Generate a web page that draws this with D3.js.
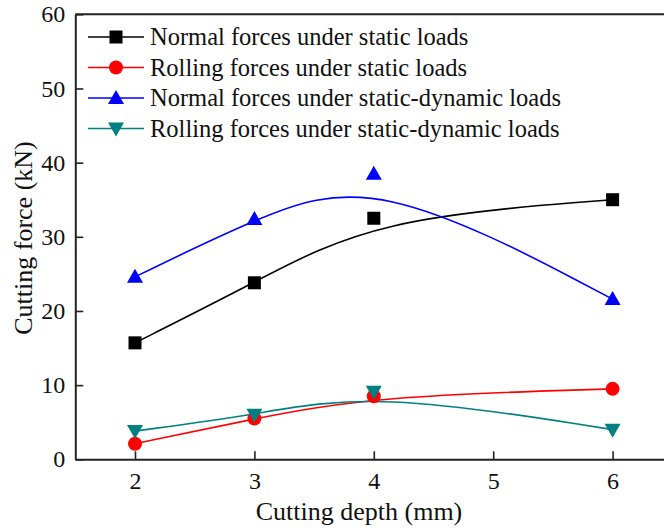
<!DOCTYPE html>
<html><head><meta charset="utf-8">
<script src="https://cdn.jsdelivr.net/npm/d3@7"></script>
<style>body{margin:0;background:#fff}svg{display:block}</style>
</head><body>
<svg id="c" width="664" height="532"></svg>
<script>
const depths = [2, 3, 4, 6];
const normalStatic = [15.7, 23.8, 32.5, 35.0];
const rollingStatic = [2.1, 5.5, 8.5, 9.5];
const normalDynamic = [24.6, 32.4, 38.5, 21.6];
const rollingDynamic = [3.8, 6.0, 9.1, 4.0];
const xTicks = [2, 3, 4, 5, 6];
const yTicks = [0, 10, 20, 30, 40, 50, 60];
const seriesNames = ["Normal forces under static loads","Rolling forces under static loads","Normal forces under static-dynamic loads","Rolling forces under static-dynamic loads"];

const series = [
  {name: seriesNames[0], vals: normalStatic, color: "#000000", sym: "square"},
  {name: seriesNames[1], vals: rollingStatic, color: "#ff0000", sym: "circle"},
  {name: seriesNames[2], vals: normalDynamic, color: "#0000ff", sym: "up"},
  {name: seriesNames[3], vals: rollingDynamic, color: "#008080", sym: "down"}
];

const svg = d3.select("#c");
const font = "'Liberation Serif','Times New Roman',serif";
const x = d3.scaleLinear().domain([1.5, 6.5]).range([75.3, 672.3]);
const y = d3.scaleLinear().domain([0, 60]).range([459.3, 14.3]);

// axes
const gx = svg.append("g").attr("transform", `translate(0,${y(0)})`)
  .call(d3.axisBottom(x).tickValues(xTicks).tickSizeInner(-8).tickSizeOuter(0).tickPadding(13).tickFormat(d3.format("d")));
const gy = svg.append("g").attr("transform", `translate(${x(1.5)},0)`)
  .call(d3.axisLeft(y).tickValues(yTicks).tickSizeInner(-8).tickSizeOuter(0).tickPadding(10).tickFormat(d3.format("d")));
[gx, gy].forEach(g => {
  g.select(".domain").attr("stroke", "#222").attr("stroke-width", 2);
  g.selectAll(".tick line").attr("stroke", "#222").attr("stroke-width", 1.6);
  g.selectAll(".tick text").attr("font-family", font).attr("font-size", 24).attr("fill", "#111");
});
gx.selectAll(".tick text").attr("dy", "0.71em");
// top border
svg.append("line").attr("x1", x(1.5)).attr("x2", x(6.5)).attr("y1", y(60)).attr("y2", y(60))
  .attr("stroke", "#222").attr("stroke-width", 2);

// titles
svg.append("text").attr("x", 359).attr("y", 520).attr("text-anchor", "middle")
  .attr("font-family", font).attr("font-size", 26).attr("fill", "#111").text("Cutting depth (mm)");
svg.append("text").attr("transform", "translate(32,238) rotate(-90)").attr("text-anchor", "middle")
  .attr("font-family", font).attr("font-size", 26).attr("fill", "#111").text("Cutting force (kN)");

function marker(g, sym, color) {
  if (sym === "square") g.append("rect").attr("x", -6.5).attr("y", -6.5).attr("width", 13).attr("height", 13).attr("fill", color);
  else if (sym === "circle") g.append("circle").attr("r", 7).attr("fill", color);
  else if (sym === "up") g.append("path").attr("d", "M0,-8L8,6L-8,6Z").attr("fill", color);
  else g.append("path").attr("d", "M0,8L8,-6L-8,-6Z").attr("fill", color);
}

const line = d3.line().x(d => x(d[0])).y(d => y(d[1])).curve(d3.curveBasis);
series.forEach(s => {
  const pts = depths.map((d, i) => [d, s.vals[i]]);
  svg.append("path").attr("d", line(pts)).attr("fill", "none").attr("stroke", s.color).attr("stroke-width", 1.6);
});
series.forEach(s => {
  depths.forEach((d, i) => {
    const g = svg.append("g").attr("transform", `translate(${x(d)},${y(s.vals[i])})`);
    marker(g, s.sym, s.color);
  });
});

// legend
series.forEach((s, i) => {
  const ly = 37 + i * 30.5;
  const g = svg.append("g");
  g.append("line").attr("x1", 88).attr("x2", 144).attr("y1", ly).attr("y2", ly).attr("stroke", s.color).attr("stroke-width", 1.6);
  marker(g.append("g").attr("transform", `translate(116,${ly})`), s.sym, s.color);
  g.append("text").attr("x", 150).attr("y", ly + 8).attr("font-family", font).attr("font-size", 24.5)
    .attr("fill", "#111").text(s.name);
});
</script>
</body></html>
